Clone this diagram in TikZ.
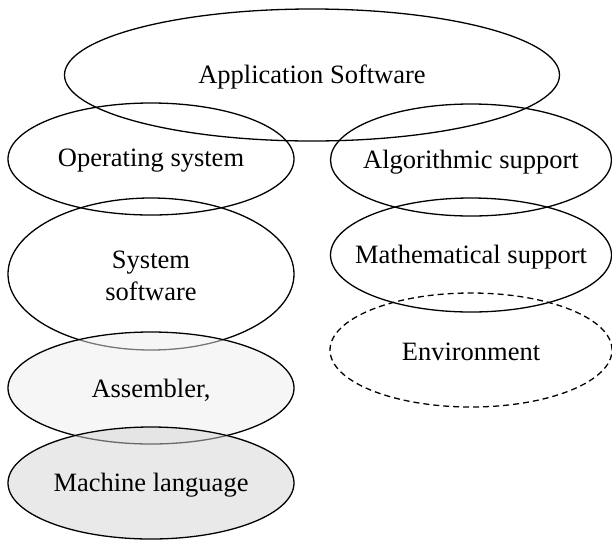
\documentclass[tikz,border=0pt]{standalone}
\usepackage{fontspec}
\setmainfont{Liberation Serif}
\usetikzlibrary{shapes.geometric}
\begin{document}
\begin{tikzpicture}[x=1pt,y=-1pt,
  oval/.style={ellipse, draw, line width=1.3pt, inner sep=0pt,
    label={[align=center, inner sep=0pt, yshift=-2pt, font=\fontsize{26.5}{32}\selectfont]center:#1}},
  sideoval/.style={oval=#1, minimum width=286pt, minimum height=112pt},
  shaded/.style={fill opacity=0.5}]
\useasboundingbox (0,0) rectangle (612,539);
% left column
\node[sideoval={System\\software}, minimum height=152pt] (sys) at (151,274) {};
\node[sideoval={Operating system}] (os) at (151,159) {};
\node[sideoval={Assembler{,}}, shaded, fill=black!7] (asm) at (151,388) {};
\node[sideoval={Machine language}, shaded, fill=black!17] (mach) at (151,483) {};
% right column
\node[sideoval={Algorithmic support}, minimum width=281pt] (alg) at (471,160) {};
\node[sideoval={Mathematical support}, minimum width=281pt, minimum height=114pt] (math) at (471,255) {};
\node[sideoval={Environment}, minimum width=282pt, minimum height=114pt, dash pattern=on 6pt off 4pt] (env) at (471,350) {};
% top
\node[oval={Application Software}, minimum width=495pt, minimum height=132pt] (app) at (312,75) {};
\end{tikzpicture}
\end{document}
